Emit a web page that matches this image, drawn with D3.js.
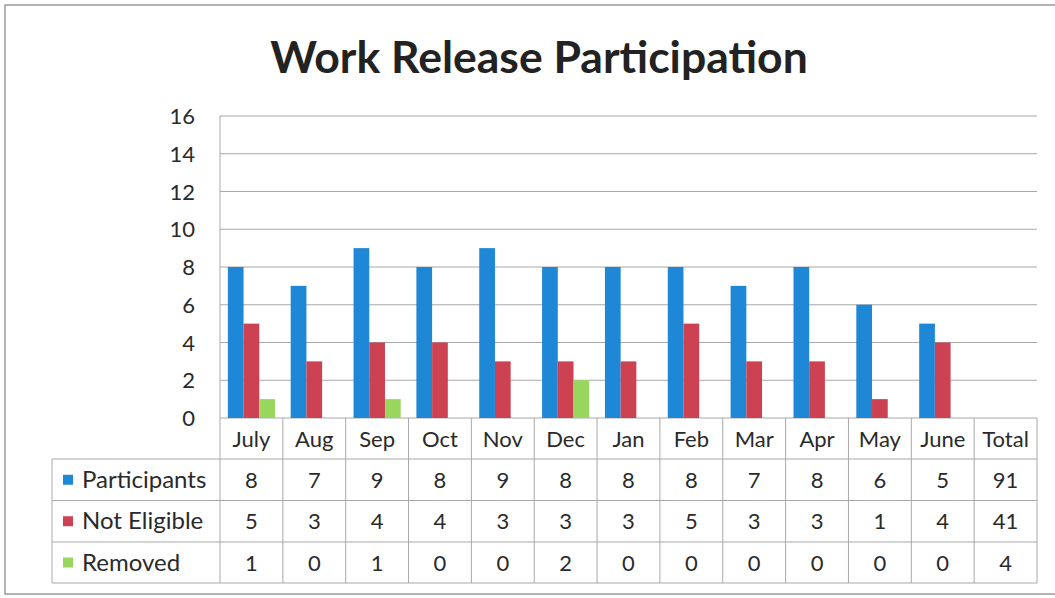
<!DOCTYPE html>
<html><head><meta charset="utf-8">
<script src="https://cdn.jsdelivr.net/npm/d3@7"></script>
<style>html,body{margin:0;padding:0;background:#fff;}svg{display:block;}</style>
</head><body>
<script>
const months = ["July","Aug","Sep","Oct","Nov","Dec","Jan","Feb","Mar","Apr","May","June"];
const columns = months.concat(["Total"]);
const seriesNames = ["Participants","Not Eligible","Removed"];
const participants = [8,7,9,8,9,8,8,8,7,8,6,5];
const notEligible = [5,3,4,4,3,3,3,5,3,3,1,4];
const removed = [1,0,1,0,0,2,0,0,0,0,0,0];
const totals = [91,41,4];
const yTicks = [0,2,4,6,8,10,12,14,16];
const colors = ["#1f88d6","#cc4253","#98d65e"];

const seriesValues = [participants, notEligible, removed];
const W = 1055, H = 598;
const svg = d3.select("body").append("svg").attr("width", W).attr("height", H);
const font = "Lato, 'Open Sans', sans-serif";
const textCol = "#2a2a2a";

// outer border
svg.append("rect").attr("x",5).attr("y",5).attr("width",1060).attr("height",589)
  .attr("fill","none").attr("stroke","#9a9a9a").attr("stroke-width",1.5);

svg.append("text").attr("x",539).attr("y",73).attr("text-anchor","middle")
  .attr("font-family",font).attr("font-weight","bold").attr("font-size",44.5).attr("fill","#222")
  .text("Work Release Participation");

const x = d3.scaleBand().domain(columns).range([220,1037]);
const y = d3.scaleLinear().domain([0,16]).range([418,116]);
const inner = d3.scaleBand().domain(d3.range(3)).range([0, x.bandwidth()]).paddingInner(0).paddingOuter(0.5);

// gridlines
svg.append("g").selectAll("line").data(yTicks).join("line")
  .attr("x1",220).attr("x2",1037).attr("y1",d=>y(d)).attr("y2",d=>y(d))
  .attr("stroke","#a8a8a8").attr("stroke-width",1);
svg.append("line").attr("x1",220).attr("x2",220).attr("y1",116).attr("y2",418).attr("stroke","#a8a8a8");

// y labels
svg.append("g").selectAll("text").data(yTicks).join("text")
  .attr("x",195).attr("y",d=>y(d)+8).attr("text-anchor","end")
  .attr("font-family",font).attr("font-size",22).attr("fill",textCol).text(d=>d);

// bars
seriesValues.forEach((vals,si)=>{
  svg.append("g").selectAll("rect").data(vals).join("rect")
    .attr("x",(d,i)=>x(months[i])+inner(si))
    .attr("width",inner.bandwidth())
    .attr("y",d=>y(d)).attr("height",d=>y(0)-y(d))
    .attr("fill",colors[si]);
});

// table
const rowTop = [418,459,500.5,542,583];
const tg = svg.append("g").attr("stroke","#a8a8a8").attr("stroke-width",1);
[459,500.5,542,583].forEach(yy=>{
  tg.append("line").attr("x1",52).attr("x2",1037).attr("y1",yy).attr("y2",yy);
});
tg.append("line").attr("x1",52).attr("x2",52).attr("y1",459).attr("y2",583);
const vx = columns.map(c=>x(c)).concat([x.range()[1]]);
tg.selectAll(".v").data(vx).join("line").attr("class","v")
  .attr("x1",d=>d).attr("x2",d=>d).attr("y1",418).attr("y2",583);

// header labels
svg.append("g").selectAll("text").data(columns).join("text")
  .attr("x",d=>x(d)+x.bandwidth()/2).attr("y",447).attr("text-anchor","middle")
  .attr("font-family",font).attr("font-size",22).attr("fill",textCol).text(d=>d);

// row labels with legend keys
seriesNames.forEach((name,si)=>{
  const cy = (rowTop[si+1]+rowTop[si+2])/2;
  svg.append("rect").attr("x",63).attr("y",cy-5).attr("width",10).attr("height",10).attr("fill",colors[si]);
  svg.append("text").attr("x",82).attr("y",cy+8).attr("font-family",font).attr("font-size",24)
    .attr("fill",textCol).text(name);
  const vals = seriesValues[si].concat([totals[si]]);
  svg.append("g").selectAll("text").data(vals).join("text")
    .attr("x",(d,i)=>x(columns[i])+x.bandwidth()/2).attr("y",cy+8).attr("text-anchor","middle")
    .attr("font-family",font).attr("font-size",22).attr("fill",textCol).text(d=>d);
});
</script>
</body></html>
